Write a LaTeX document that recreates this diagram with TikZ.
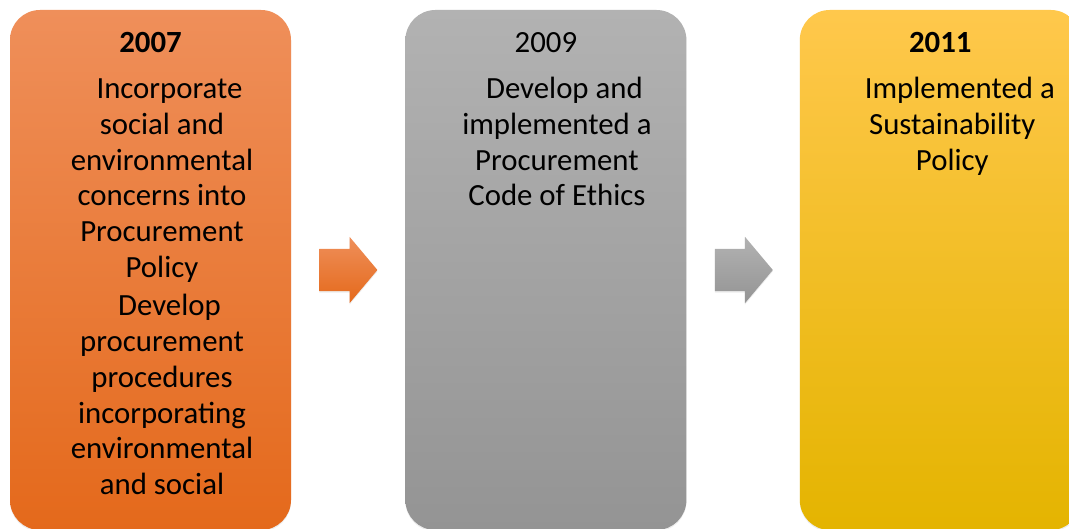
\documentclass[tikz,border=0pt]{standalone}
\usepackage{fontspec}
\setmainfont{Carlito}
\usetikzlibrary{positioning, shapes.arrows, shadows}

\definecolor{orangetop}{RGB}{239,143,90}
\definecolor{orangemid}{RGB}{243,124,44}
\definecolor{orangebot}{RGB}{228,105,27}
\definecolor{greytop}{RGB}{178,178,178}
\definecolor{greymid}{RGB}{163,163,163}
\definecolor{greybot}{RGB}{148,148,148}
\definecolor{goldtop}{RGB}{255,200,76}
\definecolor{goldmid}{RGB}{254,192,12}
\definecolor{goldbot}{RGB}{228,180,0}

\begin{document}
\begin{tikzpicture}[
        x=1pt, y=1pt,
        node distance=114pt,
        stage/.style={rectangle, rounded corners=30pt, minimum width=281pt, minimum height=520pt, inner sep=0pt,
            drop shadow={opacity=0.15, shadow xshift=0pt, shadow yshift=-1.5pt}},
        year/.style={anchor=base, inner sep=0pt, font=\fontsize{30.8}{35.7}\selectfont},
        body/.style={anchor=north, align=center, inner sep=0pt, font=\fontsize{30.8}{35.7}\selectfont, execute at begin node=\strut},
        flowarrow/.style={single arrow, single arrow head extend=12pt, single arrow tip angle=100,
            minimum height=58pt, inner xsep=0pt, inner ysep=21pt,
            drop shadow={opacity=0.15, shadow xshift=0pt, shadow yshift=-1.5pt}}
    ]
    \useasboundingbox (0,0) rectangle (1069,529);

    % the three stages
    \node[stage, top color=orangetop, middle color=orangemid, bottom color=orangebot] (box07) at (150.5,259) {};
    \node[stage, top color=greytop, middle color=greymid, bottom color=greybot, right=of box07] (box09) {};
    \node[stage, top color=goldtop, middle color=goldmid, bottom color=goldbot, right=113pt of box09] (box11) {};

    % arrows between them
    \node[flowarrow, top color=orangetop, bottom color=orangebot, right=28pt of box07] (arr1) {};
    \node[flowarrow, top color=greytop, bottom color=greybot, right=28pt of box09] (arr2) {};

    % years
    \node[year] (yr07) at ([yshift=-42.5pt]box07.north) {\bfseries 2007};
    \node[year] (yr09) at ([yshift=-42.5pt]box09.north) {2009};
    \node[year] (yr11) at ([yshift=-42.5pt]box11.north) {\bfseries 2011};

    % texts
    \node[body] (txt07) at ([xshift=11.5pt, yshift=-69pt]box07.north) {\hspace*{15pt}Incorporate\\ social and\\ environmental\\ concerns into\\ Procurement\\ Policy\\[3pt] \hspace*{15pt}Develop\\ procurement\\ procedures\\ incorporating\\ environmental\\ and social};
    \node[body] (txt09) at ([xshift=11pt, yshift=-67.5pt]box09.north) {\hspace*{15pt}Develop and\\ implemented a\\ Procurement\\ Code of Ethics};
    \node[body] (txt11) at ([xshift=12pt, yshift=-67.5pt]box11.north) {\hspace*{15pt}Implemented a\\ Sustainability\\ Policy};

\end{tikzpicture}
\end{document}
